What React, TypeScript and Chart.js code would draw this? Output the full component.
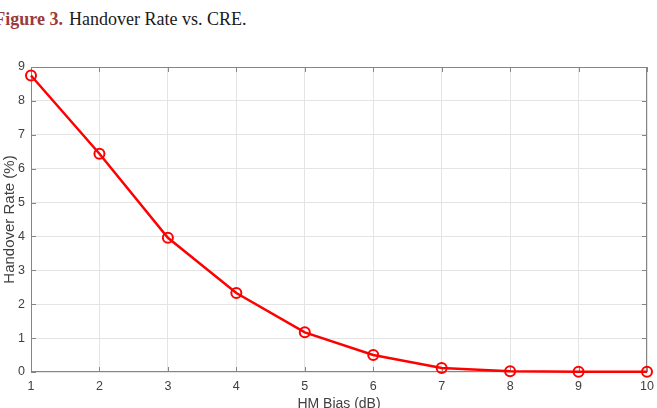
import React, { useEffect, useRef } from "react";
import { Chart, registerables } from "chart.js";

Chart.register(...registerables);

const hmBias: number[] = [1, 2, 3, 4, 5, 6, 7, 8, 9, 10];
const handoverRate: number[] = [8.75, 6.44, 3.96, 2.33, 1.17, 0.5, 0.12, 0.02, 0.01, 0.01];
const xTicks: number[] = [1, 2, 3, 4, 5, 6, 7, 8, 9, 10];
const yTicks: number[] = [0, 1, 2, 3, 4, 5, 6, 7, 8, 9];

const W = 657;
const H = 416;

const boxPlugin = {
  id: "matlabBox",
  beforeDatasetsDraw(chart: any) {
    const { ctx, chartArea } = chart;
    const { left, right, top, bottom } = chartArea;
    const xs = chart.scales.x;
    const ys = chart.scales.y;
    const tl = 5;
    ctx.save();
    ctx.strokeStyle = "#858585";
    ctx.lineWidth = 1;
    ctx.beginPath();
    ctx.rect(left + 0.5, top + 0.5, right - left - 1, bottom - top - 1);
    ctx.stroke();
    ctx.beginPath();
    for (const t of xTicks) {
      const px = Math.round(xs.getPixelForValue(t)) + 0.5;
      ctx.moveTo(px, bottom);
      ctx.lineTo(px, bottom - tl);
      ctx.moveTo(px, top);
      ctx.lineTo(px, top + tl);
    }
    for (const t of yTicks) {
      const py = Math.round(ys.getPixelForValue(t)) + 0.5;
      ctx.moveTo(left, py);
      ctx.lineTo(left + tl, py);
      ctx.moveTo(right, py);
      ctx.lineTo(right - tl, py);
    }
    ctx.stroke();
    ctx.restore();
  },
};

export default function App() {
  const ref = useRef<HTMLCanvasElement>(null);

  useEffect(() => {
    if (!ref.current) return;
    const chart = new Chart(ref.current, {
      type: "line",
      data: {
        datasets: [
          {
            label: "Handover Rate",
            data: hmBias.map((x, i) => ({ x, y: handoverRate[i] })),
            borderColor: "#ff0000",
            borderWidth: 2.5,
            pointRadius: 5,
            pointBorderWidth: 2,
            pointBorderColor: "#ff0000",
            pointBackgroundColor: "rgba(0,0,0,0)",
            pointStyle: "circle",
            tension: 0,
            clip: false as any,
          },
        ],
      },
      plugins: [boxPlugin],
      options: {
        responsive: false,
        animation: false,
        layout: { padding: { top: 67, right: 10, left: 0, bottom: 0 } },
        plugins: {
          legend: { display: false },
          tooltip: { enabled: false },
          title: { display: false },
        },
        scales: {
          x: {
            type: "linear",
            min: 1,
            max: 10,
            afterBuildTicks: (s: any) => {
              s.ticks = xTicks.map((v) => ({ value: v }));
            },
            ticks: {
              color: "#404040",
              font: { family: "'Liberation Sans', Arial, sans-serif", size: 12.5 },
              padding: 7,
              maxRotation: 0,
              autoSkip: false,
            },
            grid: { color: "#e4e4e4", drawTicks: false, lineWidth: 1 },
            border: { display: false },
            title: {
              display: true,
              text: "HM Bias (dB)",
              color: "#404040",
              font: { family: "'Liberation Sans', Arial, sans-serif", size: 14 },
              padding: { top: 0, bottom: 3.6 },
            },
            afterFit: (s: any) => {
              s.height = H - 372;
              s.paddingLeft = 0;
              s.paddingRight = 0;
            },
          },
          y: {
            type: "linear",
            min: 0,
            max: 9,
            afterBuildTicks: (s: any) => {
              s.ticks = yTicks.map((v) => ({ value: v }));
            },
            ticks: {
              color: "#404040",
              font: { family: "'Liberation Sans', Arial, sans-serif", size: 12.5 },
              padding: 6,
              autoSkip: false,
            },
            grid: { color: "#e4e4e4", drawTicks: false, lineWidth: 1 },
            border: { display: false },
            title: {
              display: true,
              text: "Handover Rate (%)",
              color: "#404040",
              font: { family: "'Liberation Sans', Arial, sans-serif", size: 15 },
              padding: { top: 1, bottom: 0 },
            },
            afterFit: (s: any) => {
              s.width = 31;
              s.paddingTop = 0;
              s.paddingBottom = 0;
            },
          },
        },
      },
    });
    return () => chart.destroy();
  }, []);

  return (
    <div
      style={{
        position: "absolute",
        left: 0,
        top: 0,
        width: 657,
        height: 408,
        overflow: "hidden",
        background: "#ffffff",
      }}
    >
      <div
        style={{
          position: "absolute",
          top: 10,
          left: 0,
          width: 63,
          textAlign: "right",
          whiteSpace: "nowrap",
          fontFamily: "'Liberation Serif', 'Times New Roman', serif",
          fontSize: 18,
          lineHeight: "18px",
          fontWeight: 600,
          color: "#9b3a3a",
          direction: "rtl",
        }}
      >
        <span style={{ direction: "ltr", unicodeBidi: "embed" }}>Figure 3.</span>
      </div>
      <div
        style={{
          position: "absolute",
          top: 10,
          left: 69,
          whiteSpace: "nowrap",
          fontFamily: "'Liberation Serif', 'Times New Roman', serif",
          fontSize: 18,
          lineHeight: "18px",
          color: "#1a1a1a",
        }}
      >
        Handover Rate vs. CRE.
      </div>
      <canvas
        ref={ref}
        width={W}
        height={H}
        style={{ position: "absolute", left: 0, top: 0, width: W, height: H }}
      />
    </div>
  );
}
